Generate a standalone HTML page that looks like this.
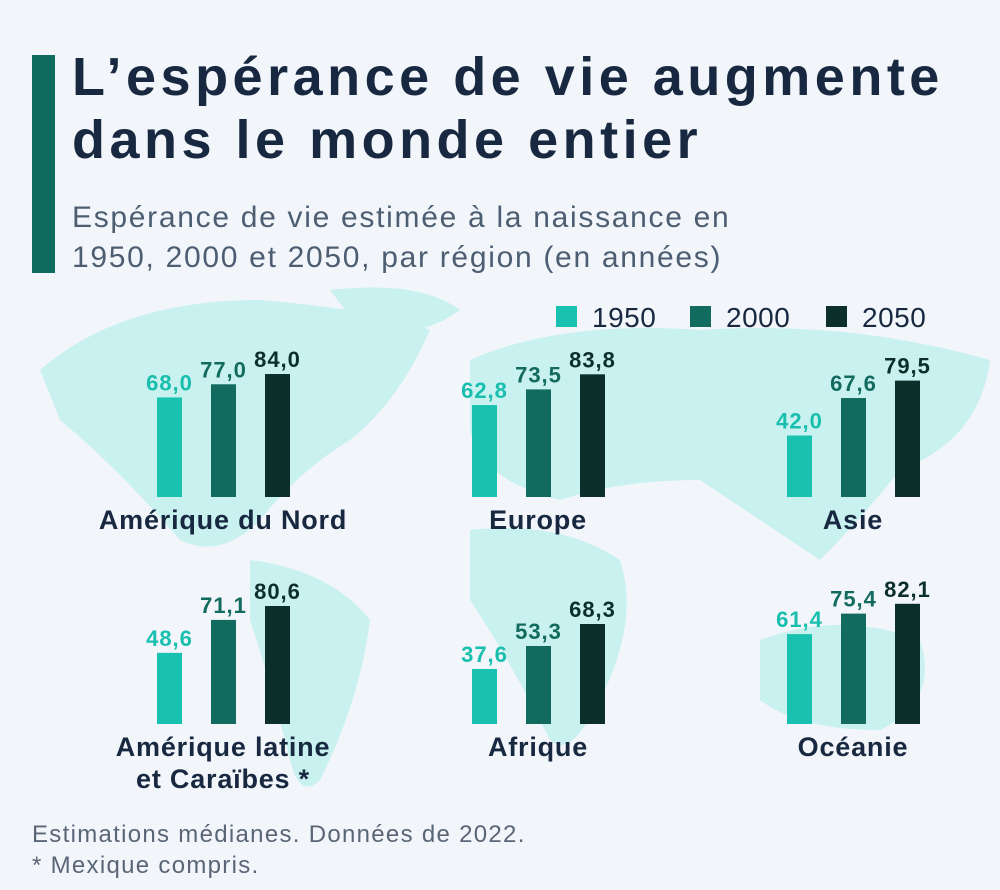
<!DOCTYPE html>
<html><head><meta charset="utf-8"><style>
body{margin:0;width:1000px;height:890px;background:#f2f6fa;font-family:"Liberation Sans",sans-serif;position:relative;overflow:hidden}
.t{position:absolute;left:72px;top:46px;font-size:54px;font-weight:bold;color:#172840;line-height:63px;letter-spacing:4.5px;white-space:nowrap}
.s{position:absolute;left:72px;top:198px;font-size:30px;color:#4e5e72;line-height:40px;letter-spacing:1.7px;white-space:nowrap}
.acc{position:absolute;left:32px;top:55px;width:23px;height:218px;background:#0f6b5d}
.f{position:absolute;left:32px;top:819px;font-size:24px;color:#5a6577;line-height:31px;letter-spacing:1.3px;white-space:nowrap}
</style></head><body>
<svg id="c" width="1000" height="890" style="position:absolute;left:0;top:0">
<g fill="#c9f1f0">
<path d="M40 370 Q120 300 260 300 Q380 310 430 330 Q400 400 350 440 Q300 470 260 520 Q220 560 180 540 Q120 470 60 420 Z"/>
<path d="M250 560 Q330 570 370 620 Q360 700 320 780 Q300 800 290 760 Q270 680 250 620 Z"/>
<path d="M470 360 Q560 320 700 330 Q850 320 990 360 Q980 440 900 470 Q860 520 820 560 Q760 520 700 480 Q620 480 560 500 Q480 480 470 430 Z"/>
<path d="M470 530 Q560 520 620 560 Q640 620 600 700 Q570 760 550 740 Q510 660 470 600 Z"/>
<path d="M760 640 Q840 610 920 640 Q940 700 880 730 Q800 730 760 700 Z"/>
<path d="M330 290 Q420 280 460 310 Q420 340 360 330 Z"/>
</g>
</svg>
<div class="acc"></div>
<div class="t">L’espérance de vie augmente<br>dans le monde entier</div>
<div class="s">Espérance de vie estimée à la naissance en<br>1950, 2000 et 2050, par région (en années)</div>
<div class="f">Estimations médianes. Données de 2022.<br>* Mexique compris.</div>
<script>
const regions=["Amérique du Nord","Europe","Asie","Amérique latine|et Caraïbes *","Afrique","Océanie"];
const years=["1950","2000","2050"];
const v1950=[68.0,62.8,42.0,48.6,37.6,61.4];
const v2000=[77.0,73.5,67.6,71.1,53.3,75.4];
const v2050=[84.0,83.8,79.5,80.6,68.3,82.1];
const svg=document.getElementById('c');const NS='http://www.w3.org/2000/svg';
const cols=["#19c2b0","#136b5f","#0c2f2b"];
const series=[v1950,v2000,v2050];
function y(v,base){return base-v*1.464;}
function mk(t,a){const e=document.createElementNS(NS,t);for(const k in a)e.setAttribute(k,a[k]);svg.appendChild(e);return e;}
regions.forEach((r,i)=>{
 const gx=[157,472,787][i%3], base=i<3?497:724;
 series.forEach((s,j)=>{
  const x=gx+j*54, top=y(s[i],base);
  const b=mk('rect',{x:x,y:top,width:25,height:base-top,fill:cols[j]});
  
  
  const t=mk('text',{x:x+12.5,y:top-7,'text-anchor':'middle','font-size':22,'font-weight':'bold','letter-spacing':1,fill:j==0?'#19bfae':(j==1?'#136b5f':'#0c2f2b')});
  t.textContent=s[i].toFixed(1).replace('.',',');
  
  
 });
 const lines=r.split('|');
 lines.forEach((l,k)=>{
  const t=mk('text',{x:gx+66,y:base+32+k*32,'text-anchor':'middle','font-size':27,'font-weight':'bold','letter-spacing':0.8,fill:'#172840'});
  t.textContent=l;
  
  
 });
});
years.forEach((yr,j)=>{
 const x=[556,690,826][j];
 const r=mk('rect',{x:x,y:306,width:21,height:21,fill:cols[j]});
 
 
 const t=mk('text',{x:x+36,y:327,'font-size':28,'letter-spacing':0.5,fill:'#172840'});
 t.textContent=yr;
 
 
});
</script>
</body></html>
